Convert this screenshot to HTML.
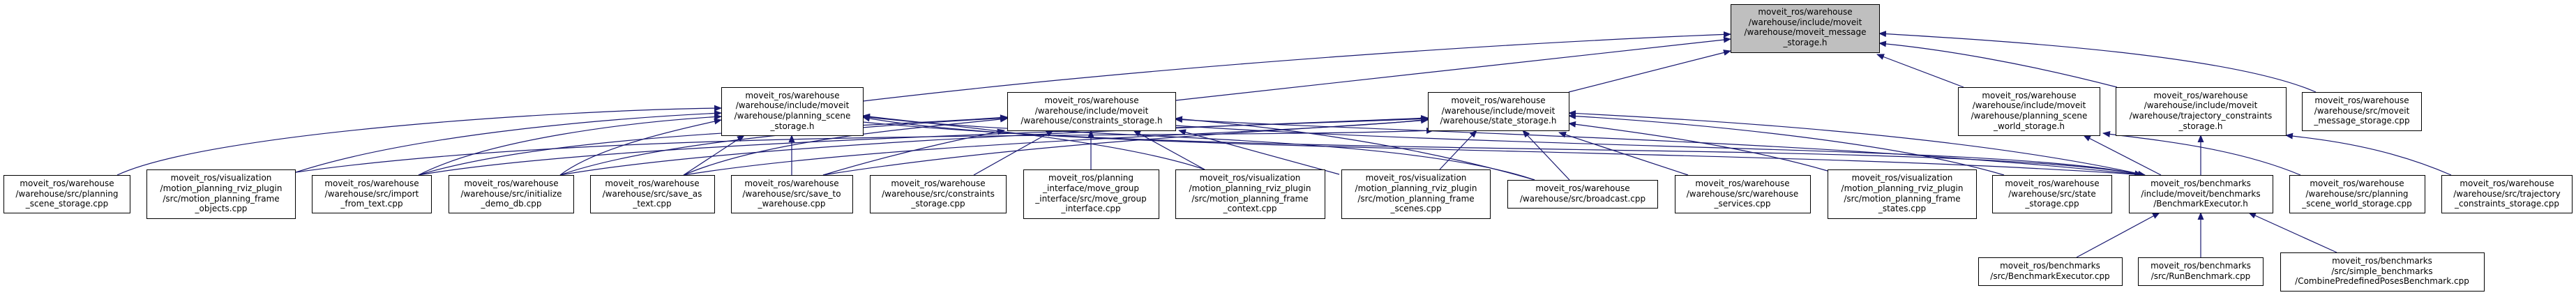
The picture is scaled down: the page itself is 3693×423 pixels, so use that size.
<!DOCTYPE html>
<html><head><meta charset="utf-8"><style>
html,body{margin:0;padding:0;background:#fff;}
svg{display:block;}
text{font-family:"DejaVu Sans","Liberation Sans",sans-serif;font-size:12px;fill:#000;}
</style></head><body>
<svg width="3693" height="423" viewBox="0 0 3693 423" xmlns="http://www.w3.org/2000/svg">
<defs><marker id="a" markerWidth="11" markerHeight="9" refX="10" refY="4.5" orient="auto" markerUnits="userSpaceOnUse"><path d="M0,0 L11,4.5 L0,9 z" fill="#191970"/></marker></defs>
<g fill="none" stroke="#191970" stroke-width="1.2" marker-end="url(#a)">
<!-- to main -->
<path d="M1237,145 C1700,90 2200,60 2481,49"/>
<path d="M1685,144 C2000,110 2300,75 2481,56"/>
<path d="M2249,132 L2481,73"/>
<path d="M2815,125 L2691,78"/>
<path d="M3035,125 C2900,90 2780,70 2694,62"/>
<path d="M3320,132 C3200,80 2900,60 2694,48"/>
<!-- to planning_scene_storage.h -->
<path d="M168,251 C300,190 800,158 1034,155"/>
<path d="M424,247 C600,190 900,168 1034,162"/>
<path d="M600,251 C700,200 900,175 1034,167"/>
<path d="M803,251 C850,215 950,190 1034,172"/>
<path d="M980,251 L1067,194"/>
<path d="M1135,251 L1135,194"/>
<path d="M1727,243 C1600,200 1350,180 1237,166"/>
<path d="M2200,258 C2000,190 1500,200 1237,167"/>
<path d="M3075,251 C2500,210 1500,220 1237,168"/>
<!-- to constraints_storage.h -->
<path d="M600,251 C800,190 1200,185 1444,168"/>
<path d="M803,251 C950,200 1250,180 1444,169"/>
<path d="M980,251 C1100,200 1300,185 1444,170"/>
<path d="M1180,251 C1300,215 1400,195 1440,187"/>
<path d="M1396,251 L1510,187"/>
<path d="M1564,243 L1564,187"/>
<path d="M1727,243 L1625,187"/>
<path d="M1920,250 L1690,187"/>
<path d="M2200,258 C2000,200 1800,180 1685,170"/>
<path d="M3075,251 C2600,200 2000,190 1685,171"/>
<!-- to state_storage.h -->
<path d="M600,251 C900,200 1700,185 2047,170"/>
<path d="M803,251 C1100,200 1800,180 2047,169"/>
<path d="M980,251 C1300,200 1900,190 2047,171"/>
<path d="M1180,251 C1500,200 1900,185 2047,172"/>
<path d="M2064,243 L2117,187"/>
<path d="M2250,258 L2183,187"/>
<path d="M2420,251 L2235,190"/>
<path d="M2620,245 C2500,210 2350,190 2249,177"/>
<path d="M2873,251 C2700,200 2400,175 2249,166"/>
<path d="M3075,251 C2800,190 2400,170 2249,162"/>
<path d="M424,247 C900,180 1700,200 2055,187"/>
<!-- psws / tcs -->
<path d="M3098,251 L2987,194"/>
<path d="M3298,251 C3200,210 3080,200 3015,191"/>
<path d="M3155,251 L3155,194"/>
<path d="M3514,251 C3420,210 3330,200 3277,194"/>
<!-- to BenchmarkExecutor.h -->
<path d="M1237,175 C1800,230 2800,200 3075,251"/>
<path d="M1685,180 C2200,215 2900,210 3070,251"/>
<!-- to BE.h from bottom -->
<path d="M2977,369 L3096,305"/>
<path d="M3155,369 L3155,305"/>
<path d="M3350,362 L3224,305"/>
</g>
<g stroke="#000" stroke-width="1" fill="#fff">
<rect x="2481.5" y="6.5" width="213" height="69" fill="#bfbfbf"/>
<rect x="1034.5" y="125.5" width="203" height="69"/>
<rect x="1444.5" y="132.5" width="241" height="55"/>
<rect x="2047.5" y="132.5" width="202" height="55"/>
<rect x="2807.5" y="125.5" width="203" height="69"/>
<rect x="3033.5" y="125.5" width="244" height="69"/>
<rect x="3300.5" y="132.5" width="171" height="55"/>
<rect x="5.5" y="251.5" width="181" height="54"/>
<rect x="210.5" y="243.5" width="213" height="70"/>
<rect x="447.5" y="251.5" width="171" height="54"/>
<rect x="643.5" y="251.5" width="179" height="54"/>
<rect x="846.5" y="251.5" width="178" height="54"/>
<rect x="1048.5" y="251.5" width="174" height="54"/>
<rect x="1247.5" y="251.5" width="195" height="54"/>
<rect x="1467.5" y="243.5" width="194" height="70"/>
<rect x="1685.5" y="243.5" width="214" height="70"/>
<rect x="1923.5" y="243.5" width="213" height="70"/>
<rect x="2161.5" y="258.5" width="215" height="40"/>
<rect x="2401.5" y="251.5" width="194" height="54"/>
<rect x="2620.5" y="243.5" width="213" height="70"/>
<rect x="2856.5" y="251.5" width="171" height="54"/>
<rect x="3052.5" y="251.5" width="206" height="54"/>
<rect x="3282.5" y="251.5" width="194" height="54"/>
<rect x="3500.5" y="251.5" width="187" height="54"/>
<rect x="2836.5" y="369.5" width="206" height="40"/>
<rect x="3065.5" y="369.5" width="179" height="40"/>
<rect x="3269.5" y="362.5" width="292" height="55"/>
</g>
<g text-anchor="middle">
<text x="2588" y="21">moveit_ros/warehouse</text><text x="2588" y="36">/warehouse/include/moveit</text><text x="2588" y="50">/warehouse/moveit_message</text><text x="2588" y="65">_storage.h</text>
<text x="1136" y="141">moveit_ros/warehouse</text><text x="1136" y="155">/warehouse/include/moveit</text><text x="1136" y="170">/warehouse/planning_scene</text><text x="1136" y="185">_storage.h</text>
<text x="1565" y="148">moveit_ros/warehouse</text><text x="1565" y="163">/warehouse/include/moveit</text><text x="1565" y="177">/warehouse/constraints_storage.h</text>
<text x="2148" y="148">moveit_ros/warehouse</text><text x="2148" y="163">/warehouse/include/moveit</text><text x="2148" y="177">/warehouse/state_storage.h</text>
<text x="2909" y="141">moveit_ros/warehouse</text><text x="2909" y="155">/warehouse/include/moveit</text><text x="2909" y="170">/warehouse/planning_scene</text><text x="2909" y="185">_world_storage.h</text>
<text x="3155" y="141">moveit_ros/warehouse</text><text x="3155" y="155">/warehouse/include/moveit</text><text x="3155" y="170">/warehouse/trajectory_constraints</text><text x="3155" y="185">_storage.h</text>
<text x="3386" y="148">moveit_ros/warehouse</text><text x="3386" y="163">/warehouse/src/moveit</text><text x="3386" y="177">_message_storage.cpp</text>
<text x="96" y="267">moveit_ros/warehouse</text><text x="96" y="282">/warehouse/src/planning</text><text x="96" y="296">_scene_storage.cpp</text>
<text x="317" y="259">moveit_ros/visualization</text><text x="317" y="274">/motion_planning_rviz_plugin</text><text x="317" y="289">/src/motion_planning_frame</text><text x="317" y="303">_objects.cpp</text>
<text x="533" y="267">moveit_ros/warehouse</text><text x="533" y="282">/warehouse/src/import</text><text x="533" y="296">_from_text.cpp</text>
<text x="733" y="267">moveit_ros/warehouse</text><text x="733" y="282">/warehouse/src/initialize</text><text x="733" y="296">_demo_db.cpp</text>
<text x="935" y="267">moveit_ros/warehouse</text><text x="935" y="282">/warehouse/src/save_as</text><text x="935" y="296">_text.cpp</text>
<text x="1135" y="267">moveit_ros/warehouse</text><text x="1135" y="282">/warehouse/src/save_to</text><text x="1135" y="296">_warehouse.cpp</text>
<text x="1345" y="267">moveit_ros/warehouse</text><text x="1345" y="282">/warehouse/src/constraints</text><text x="1345" y="296">_storage.cpp</text>
<text x="1564" y="259">moveit_ros/planning</text><text x="1564" y="274">_interface/move_group</text><text x="1564" y="289">_interface/src/move_group</text><text x="1564" y="303">_interface.cpp</text>
<text x="1792" y="259">moveit_ros/visualization</text><text x="1792" y="274">/motion_planning_rviz_plugin</text><text x="1792" y="289">/src/motion_planning_frame</text><text x="1792" y="303">_context.cpp</text>
<text x="2030" y="259">moveit_ros/visualization</text><text x="2030" y="274">/motion_planning_rviz_plugin</text><text x="2030" y="289">/src/motion_planning_frame</text><text x="2030" y="303">_scenes.cpp</text>
<text x="2269" y="274">moveit_ros/warehouse</text><text x="2269" y="289">/warehouse/src/broadcast.cpp</text>
<text x="2498" y="267">moveit_ros/warehouse</text><text x="2498" y="282">/warehouse/src/warehouse</text><text x="2498" y="296">_services.cpp</text>
<text x="2727" y="259">moveit_ros/visualization</text><text x="2727" y="274">/motion_planning_rviz_plugin</text><text x="2727" y="289">/src/motion_planning_frame</text><text x="2727" y="303">_states.cpp</text>
<text x="2942" y="267">moveit_ros/warehouse</text><text x="2942" y="282">/warehouse/src/state</text><text x="2942" y="296">_storage.cpp</text>
<text x="3155" y="267">moveit_ros/benchmarks</text><text x="3155" y="282">/include/moveit/benchmarks</text><text x="3155" y="296">/BenchmarkExecutor.h</text>
<text x="3379" y="267">moveit_ros/warehouse</text><text x="3379" y="282">/warehouse/src/planning</text><text x="3379" y="296">_scene_world_storage.cpp</text>
<text x="3594" y="267">moveit_ros/warehouse</text><text x="3594" y="282">/warehouse/src/trajectory</text><text x="3594" y="296">_constraints_storage.cpp</text>
<text x="2939" y="385">moveit_ros/benchmarks</text><text x="2939" y="400">/src/BenchmarkExecutor.cpp</text>
<text x="3155" y="385">moveit_ros/benchmarks</text><text x="3155" y="400">/src/RunBenchmark.cpp</text>
<text x="3415" y="378">moveit_ros/benchmarks</text><text x="3415" y="393">/src/simple_benchmarks</text><text x="3415" y="407">/CombinePredefinedPosesBenchmark.cpp</text>
</g>
</svg>
</body></html>
